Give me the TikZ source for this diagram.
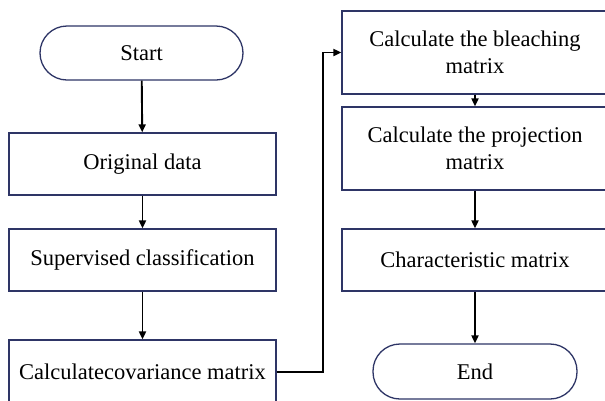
\documentclass[tikz,border=0pt]{standalone}
\usepackage{fontspec}
\setmainfont{Liberation Serif}
\usetikzlibrary{arrows.meta}
\definecolor{boxline}{HTML}{2E3566}
\begin{document}
\begin{tikzpicture}[x=1pt,y=-1pt,
  box/.style={draw=boxline,line width=1.3pt,fill=white,inner sep=0pt,align=center,
    font=\fontsize{22.5}{27.5}\selectfont,text=black},
  term/.style={box,rounded corners=27pt},
  conn/.style={line width=1.9pt,-{Triangle[length=8pt,width=7pt]}}]
\clip (0,0) rectangle (605,400);
\fill[white] (0,0) rectangle (605,400);
\node[term,minimum width=203pt,minimum height=54pt] (start) at (141.5,53) {Start};
\node[box,minimum width=267pt,minimum height=62pt] (orig) at (142.5,164) {Original data};
\node[box,minimum width=267pt,minimum height=62pt] (sup) at (142.5,260) {Supervised classification};
\node[box,minimum width=267pt,minimum height=64pt] (cov) at (142.5,372) {Calculatecovariance matrix};
\node[box,minimum width=266pt,minimum height=83pt] (bleach) at (475,52.5) {Calculate the bleaching\\matrix};
\node[box,minimum width=266pt,minimum height=83pt] (proj) at (475,148.5) {Calculate the projection\\matrix};
\node[box,minimum width=266pt,minimum height=62pt] (char) at (475,260) {Characteristic matrix};
\node[term,minimum width=204pt,minimum height=55pt] (end) at (475,371.5) {End};
\coordinate (t1) at (323,372);
\coordinate (t2) at (323,52.5);
\draw[conn] (start) -- (orig);
\draw[conn] (orig) -- (sup);
\draw[conn] (sup) -- (cov);
\draw[conn] (cov.east) -- (t1) -- (t2) -- (bleach.west);
\draw[conn] (bleach) -- (proj);
\draw[conn] (proj) -- (char);
\draw[conn] (char) -- (end);
\end{tikzpicture}
\end{document}
